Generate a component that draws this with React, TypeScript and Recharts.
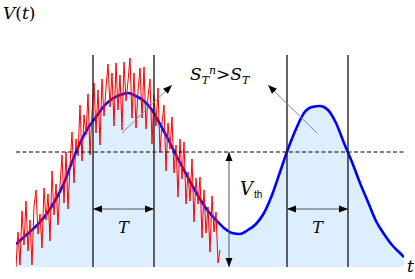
import React from 'react';
import { Area, ComposedChart, Line, ReferenceLine, XAxis, YAxis } from 'recharts';

// smooth membrane potential (time units, potential units)
const smoothT = [
  0, 8, 16, 24, 32, 40, 48, 56, 64, 72, 80, 88, 96, 104, 112, 120, 128, 136, 144, 152,
  160, 168, 176, 184, 192, 200, 208, 216, 224, 232, 240, 248, 256, 264, 272, 280, 288, 296,
  304, 312, 320, 328, 336, 344, 352, 360, 368, 376, 384, 388,
];
const smoothV = [
  23, 30, 37, 45, 55, 68, 84, 105, 124, 139, 150, 161, 168, 172, 174, 171, 166, 157, 143, 128,
  112, 97, 82, 68, 56, 47, 39, 34, 33, 37, 43, 54, 72, 95, 118, 138, 154, 160,
  161, 157, 144, 124, 105, 84, 65, 46, 33, 22, 14, 10,
];

// noisy trace, sampled every 2 time units from t = 0
const noisyStep = 2;
const noisyV = [
  0, 35, 2, 56, 22, 66, 16, 47, 2, 61, 77, 33, 53, 19, 79, 47, 73, 26, 96, 52,
  83, 42, 81, 112, 64, 115, 58, 102, 135, 84, 128, 111, 162, 106, 152, 132, 173, 112, 155, 184,
  134, 177, 122, 188, 151, 179, 203, 160, 194, 141, 204, 157, 192, 137, 205, 166, 186, 209, 149, 194,
  139, 176, 199, 149, 200, 138, 170, 188, 123, 172, 141, 179, 115, 144, 162, 96, 144, 118, 150, 94,
  122, 70, 128, 88, 125, 63, 95, 66, 108, 45, 89, 63, 90, 29, 77, 34, 60, 15, 71, 35,
  55, 4, 17,
];

const threshold = 115;
const windowEdges = [77, 138, 271, 332];
const windowTop = 212;
const windowPairs = [[77, 138], [271, 332]];
const periodLevel = 58;
const vthAt = 213;
const pointerArrows = [
  { from: [106, 134], to: [156, 182] },
  { from: [301, 134], to: [252, 182] },
];

const smoothRows = smoothT.map((t, i) => ({ t, v: smoothV[i] }));
const noisyRows = noisyV.map((v, i) => ({ t: i * noisyStep, v }));

const head = (xt: number, yt: number, xf: number, yf: number) => {
  const dx = xt - xf;
  const dy = yt - yf;
  const d = Math.hypot(dx, dy) || 1;
  const ux = dx / d;
  const uy = dy / d;
  const bx = xt - ux * 9;
  const by = yt - uy * 9;
  const w = 3.5;
  return `${xt},${yt} ${bx - uy * w},${by + ux * w} ${bx + uy * w},${by - ux * w}`;
};

const arrowShape = (both: boolean, color: string) => (p: any) => {
  const { x1, y1, x2, y2 } = p;
  return (
    <g>
      <line x1={x1} y1={y1} x2={x2} y2={y2} stroke={color} strokeWidth={1} />
      <polygon points={head(x2, y2, x1, y1)} fill="#000" />
      {both && <polygon points={head(x1, y1, x2, y2)} fill="#000" />}
    </g>
  );
};

const serif: React.CSSProperties = { fontFamily: 'DejaVu Serif' };
const sans: React.CSSProperties = { fontFamily: 'Liberation Sans' };

export default function App() {
  return (
    <div style={{ position: 'absolute', left: 0, top: 0, width: 415, height: 279, background: '#fff' }}>
      <ComposedChart width={415} height={279} margin={{ top: 28, right: 11, bottom: 12, left: 16 }}>
        <XAxis
          type="number"
          dataKey="t"
          domain={[0, 388]}
          allowDataOverflow
          tick={false}
          tickLine={false}
          axisLine={{ stroke: '#999' }}
          height={0}
        />
        <YAxis
          type="number"
          domain={[0, 239]}
          allowDataOverflow
          tick={false}
          tickLine={false}
          axisLine={{ stroke: '#999' }}
          width={0}
        />
        <Area
          data={smoothRows}
          dataKey="v"
          type="monotone"
          stroke="none"
          fill="#ddeeff"
          fillOpacity={1}
          isAnimationActive={false}
        />
        <Line
          data={smoothRows}
          dataKey="v"
          type="monotone"
          stroke="#0000ff"
          strokeWidth={2.6}
          dot={false}
          isAnimationActive={false}
        />
        <Line
          data={noisyRows}
          dataKey="v"
          type="linear"
          stroke="#ff0000"
          strokeWidth={1}
          dot={false}
          isAnimationActive={false}
        />
        <ReferenceLine y={threshold} stroke="#000" strokeDasharray="4 2.5" strokeWidth={1} />
        {windowEdges.map((e) => (
          <ReferenceLine
            key={e}
            segment={[{ x: e, y: 0 }, { x: e, y: windowTop }]}
            stroke="#222"
            strokeWidth={1.4}
          />
        ))}
        {windowPairs.map(([a, b]) => (
          <ReferenceLine
            key={a}
            segment={[{ x: (a + b) / 2, y: periodLevel }, { x: a, y: periodLevel }]}
            shape={arrowShape(false, '#555')}
          />
        ))}
        {windowPairs.map(([a, b]) => (
          <ReferenceLine
            key={b}
            segment={[{ x: (a + b) / 2, y: periodLevel }, { x: b, y: periodLevel }]}
            shape={arrowShape(false, '#555')}
          />
        ))}
        <ReferenceLine
          segment={[{ x: vthAt, y: 0 }, { x: vthAt, y: threshold }]}
          shape={arrowShape(true, '#555')}
        />
        {pointerArrows.map((a, i) => (
          <ReferenceLine
            key={i}
            segment={[{ x: a.from[0], y: a.from[1] }, { x: a.to[0], y: a.to[1] }]}
            shape={arrowShape(false, '#888')}
          />
        ))}
      </ComposedChart>
      <svg width={415} height={279} style={{ position: 'absolute', left: 0, top: 0, pointerEvents: 'none' }}>
        <text x={3} y={19} fontSize={17} style={serif}>
          <tspan fontStyle="italic">V</tspan>(<tspan fontStyle="italic">t</tspan>)
        </text>
        <text x={407} y={272} fontSize={17} fontStyle="italic" style={serif}>t</text>
        <text x={123.5} y={233} fontSize={16} fontStyle="italic" textAnchor="middle" style={serif}>T</text>
        <text x={317.5} y={233} fontSize={16} fontStyle="italic" textAnchor="middle" style={serif}>T</text>
        <text x={240} y={195} fontSize={18} style={serif}>
          <tspan fontStyle="italic">V</tspan>
          <tspan fontSize={10} style={sans} dx={1} dy={3}>th</tspan>
        </text>
        <text x={190} y={80} fontSize={17} style={serif}>
          <tspan fontStyle="italic">S</tspan>
          <tspan fontStyle="italic" fontSize={11} dy={4}>T</tspan>
          <tspan fontStyle="italic" fontSize={11} dy={-10}>n</tspan>
          <tspan dy={6}>&gt;</tspan>
          <tspan fontStyle="italic">S</tspan>
          <tspan fontStyle="italic" fontSize={11} dy={4}>T</tspan>
        </text>
      </svg>
    </div>
  );
}
